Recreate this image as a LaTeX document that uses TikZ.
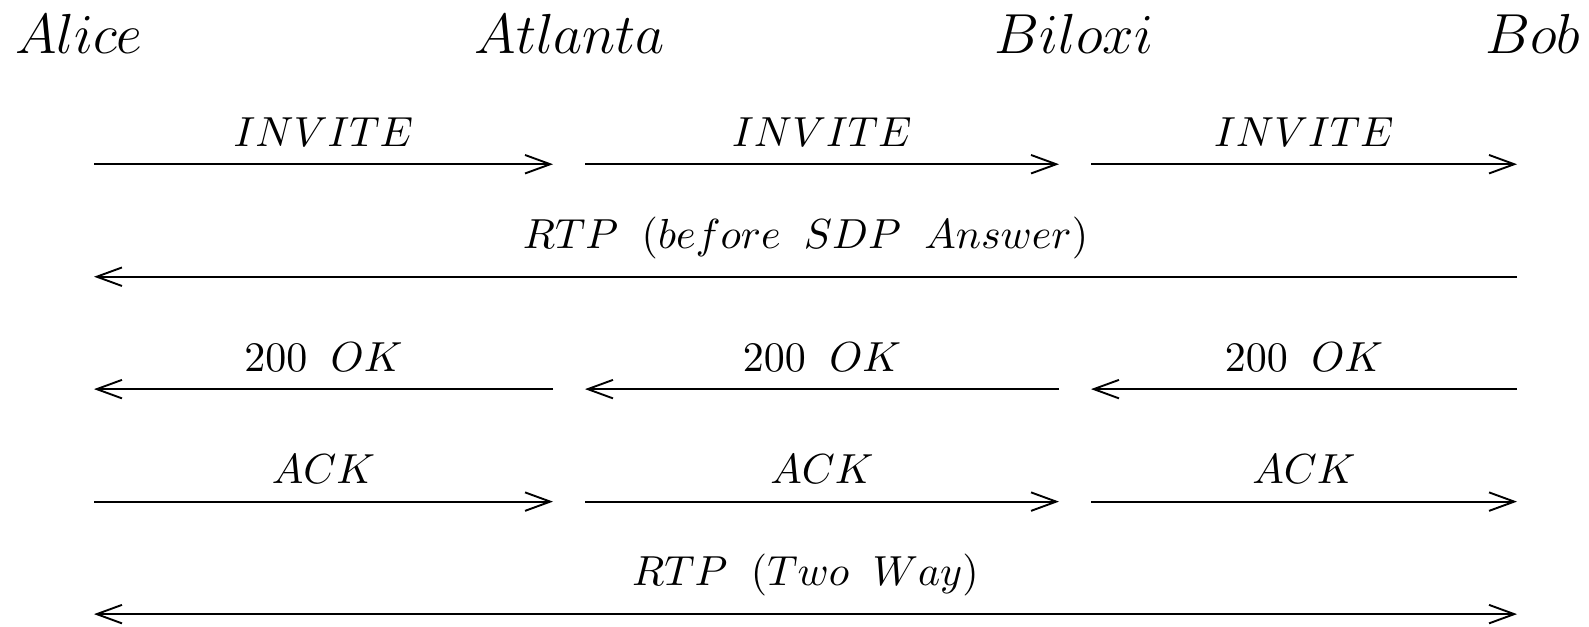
\documentclass[tikz,border=0pt]{standalone}
\usetikzlibrary{arrows.meta}
% word space inside the math-italic message labels
\newcommand\msgsp{\hspace{0.54em}}
\begin{document}
\begin{tikzpicture}[x=0.238pt,y=-0.238pt,
  >={Straight Barb[length=6pt,width=4.4pt]},
  msg/.style={line width=0.45pt},
  lbl/.style={above=4pt,inner sep=0pt,midway,font=\fontsize{10.3}{12}\selectfont},
  party/.style={anchor=base,inner sep=0pt,font=\large,scale=1.12}]
\useasboundingbox (0,0) rectangle (1589,626);

% participants
\node[party] (alice)   at (79,53)   {$Alice$};
\node[party] (atlanta) at (570,53)  {$Atlanta$};
\node[party] (biloxi)  at (1074,53) {$Biloxi$};
\node[party] (bob)     at (1533,53) {$Bob$};

% message end points, one row per message
\foreach \r/\y in {1/164.2,2/276.7,3/389.1,4/501.6,5/614.1}{
  \coordinate (p\r a) at (94,\y);
  \coordinate (p\r b) at (553,\y);
  \coordinate (p\r c) at (585,\y);
  \coordinate (p\r d) at (1059,\y);
  \coordinate (p\r e) at (1091,\y);
  \coordinate (p\r f) at (1517,\y);
}

% INVITE
\draw[msg,->] (p1a) -- node[lbl] {$INVITE$} (p1b);
\draw[msg,->] (p1c) -- node[lbl] {$INVITE$} (p1d);
\draw[msg,->] (p1e) -- node[lbl] {$INVITE$} (p1f);

% early media
\draw[msg,->] (p2f) -- node[lbl] {$RTP\msgsp(before\msgsp SDP\msgsp Answer)$} (p2a);

% 200 OK
\draw[msg,->] (p3b) -- node[lbl] {$200\msgsp OK$} (p3a);
\draw[msg,->] (p3d) -- node[lbl] {$200\msgsp OK$} (p3c);
\draw[msg,->] (p3f) -- node[lbl] {$200\msgsp OK$} (p3e);

% ACK
\draw[msg,->] (p4a) -- node[lbl] {$ACK$} (p4b);
\draw[msg,->] (p4c) -- node[lbl] {$ACK$} (p4d);
\draw[msg,->] (p4e) -- node[lbl] {$ACK$} (p4f);

% media both ways
\draw[msg,<->] (p5a) -- node[lbl] {$RTP\msgsp(Two\msgsp Way)$} (p5f);
\end{tikzpicture}
\end{document}
